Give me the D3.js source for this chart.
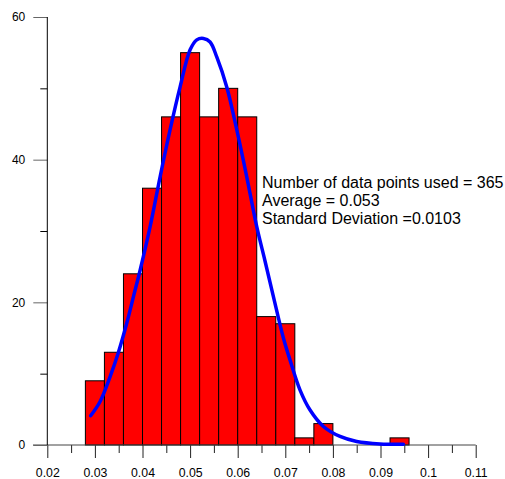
<!DOCTYPE html>
<html>
<head>
<meta charset="utf-8">
<script src="https://cdn.jsdelivr.net/npm/d3@7"></script>
<style>
  html, body { margin: 0; padding: 0; background: #fff; }
  svg { display: block; font-family: "Liberation Sans", Arial, sans-serif; }
</style>
</head>
<body>
<svg id="chart" width="505" height="479"></svg>
<script>
// Histogram bins (lower edge of each 0.004-wide bin) and counts
const binStarts = [0.028, 0.032, 0.036, 0.040, 0.044, 0.048, 0.052, 0.056, 0.060,
                   0.064, 0.068, 0.072, 0.076, 0.080, 0.084, 0.088, 0.092];
const binCounts = [9, 13, 24, 36, 46, 55, 46, 50, 46, 18, 17, 1, 3, 0, 0, 0, 1];
const binWidth = 0.004;

// Fitted distribution curve samples
const curveX = [0.0291, 0.0311, 0.0332, 0.0349, 0.0367, 0.0381, 0.0395, 0.0416, 0.0437,
                0.0458, 0.0479, 0.0500, 0.0514, 0.0528, 0.0542, 0.0556, 0.0577, 0.0598,
                0.0619, 0.0640, 0.0657, 0.0675, 0.0696, 0.0710, 0.0731, 0.0752, 0.0780,
                0.0815, 0.0850, 0.0899, 0.0948];
const curveY = [4.1, 6.1, 9.6, 12.9, 17.1, 20.8, 24.5, 30.6, 37.6,
                44.2, 50.2, 55.4, 56.8, 57.0, 56.5, 54.4, 50.2, 44.2,
                37.6, 30.6, 25.9, 20.8, 15.0, 11.9, 7.7, 4.9, 2.6,
                1.2, 0.5, 0.15, 0.1];

const xTicks = [0.02, 0.03, 0.04, 0.05, 0.06, 0.07, 0.08, 0.09, 0.1, 0.11];
const xMinorTicks = [0.025, 0.035, 0.045, 0.055, 0.065, 0.075, 0.085, 0.095, 0.105];
const yTicks = [0, 20, 40, 60];
const yMinorTicks = [10, 30, 50];
const statLines = ["Number of data points used = 365", "Average = 0.053", "Standard Deviation =0.0103"];

const svg = d3.select("#chart");
const x = d3.scaleLinear().domain([0.02, 0.11]).range([47.3, 475.7]);
const y = d3.scaleLinear().domain([0, 60]).range([445, 17]);

// Bars
svg.append("g")
  .selectAll("rect")
  .data(binStarts.map((s, i) => ({ s, c: binCounts[i] })).filter(d => d.c > 0))
  .join("rect")
  .attr("x", d => x(d.s))
  .attr("y", d => y(d.c))
  .attr("width", d => x(d.s + binWidth) - x(d.s))
  .attr("height", d => y(0) - y(d.c))
  .attr("fill", "#ff0000")
  .attr("stroke", "#000")
  .attr("stroke-width", 1);

// X axis
const gx = svg.append("g").attr("transform", `translate(0,${y(0)})`);
gx.call(d3.axisBottom(x).tickValues(xTicks).tickSize(13).tickSizeOuter(0)
          .tickFormat(d => String(+d.toFixed(2))));
gx.select(".domain").remove();
gx.selectAll(".tick line").attr("stroke", "#222");
gx.selectAll(".tick text").attr("font-size", 12.3).attr("fill", "#000")
  .attr("y", 31.5).attr("dy", 0)
  .attr("font-family", "Liberation Sans, Arial, sans-serif");
const gxm = svg.append("g").attr("transform", `translate(0,${y(0)})`);
gxm.call(d3.axisBottom(x).tickValues(xMinorTicks).tickSize(8).tickFormat(""));
gxm.select(".domain").remove();
gxm.selectAll(".tick line").attr("stroke", "#222");
svg.append("line")
  .attr("x1", 33).attr("x2", x(0.11))
  .attr("y1", y(0)).attr("y2", y(0))
  .attr("stroke", "#444");

// Y axis
const gy = svg.append("g").attr("transform", `translate(${x(0.02)},0)`);
gy.call(d3.axisLeft(y).tickValues(yTicks).tickSize(14).tickSizeOuter(0).tickPadding(8));
gy.select(".domain").remove();
gy.selectAll(".tick line").attr("stroke", "#666");
gy.selectAll(".tick text").attr("font-size", 12).attr("fill", "#000")
  .attr("font-family", "Liberation Sans, Arial, sans-serif");
const gym = svg.append("g").attr("transform", `translate(${x(0.02)},0)`);
gym.call(d3.axisLeft(y).tickValues(yMinorTicks).tickSize(7).tickFormat(""));
gym.select(".domain").remove();
gym.selectAll(".tick line").attr("stroke", "#000");
svg.append("line")
  .attr("x1", x(0.02)).attr("x2", x(0.02))
  .attr("y1", y(60)).attr("y2", y(0))
  .attr("stroke", "#000");

// Fitted curve
const line = d3.line()
  .x(d => x(d[0]))
  .y(d => y(d[1]))
  .curve(d3.curveCatmullRom.alpha(0.5));
svg.append("path")
  .datum(curveX.map((v, i) => [v, curveY[i]]))
  .attr("d", line)
  .attr("fill", "none")
  .attr("stroke", "#0000ff")
  .attr("stroke-width", 3.5)
  .attr("stroke-linecap", "round");

// Summary statistics
svg.append("g")
  .selectAll("text")
  .data(statLines)
  .join("text")
  .attr("x", 262)
  .attr("y", (d, i) => 188 + i * 18)
  .attr("font-size", 16)
  .attr("fill", "#000")
  .text(d => d);
</script>
</body>
</html>
